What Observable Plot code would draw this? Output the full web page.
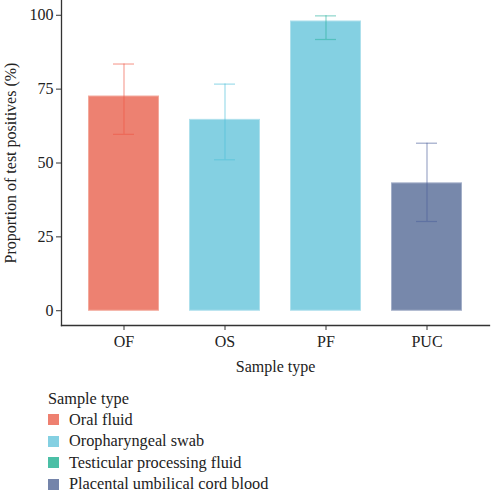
<!DOCTYPE html>
<html>
<head>
<meta charset="utf-8">
<script src="https://cdn.jsdelivr.net/npm/d3@7"></script>
<script src="https://cdn.jsdelivr.net/npm/@observablehq/plot@0.6"></script>
<style>
  body { margin: 0; background: #fff; font-family: "Liberation Serif", "DejaVu Serif", serif; }
  #chart svg { display: block; }
  .legend { margin: 4px 0 0 48px; color: #222; font-size: 16.3px; }
  .legend .ttl { height: 21px; line-height: 21px; }
  .legend .item { display: flex; align-items: center; height: 21.5px; }
  .legend .sw { width: 11px; height: 11px; margin-right: 10px; }
</style>
</head>
<body>
<div id="chart"></div>
<div class="legend" id="legend"></div>
<script>
// Proportion of test positives by sample type, with 95% confidence intervals
const codes = ["OF", "OS", "PF", "PUC"];
const names = ["Oral fluid", "Oropharyngeal swab", "Testicular processing fluid", "Placental umbilical cord blood"];
const percent = [72.5, 64.6, 97.9, 43.1];
const lower = [59.7, 51.1, 91.8, 30.2];
const upper = [83.5, 76.7, 99.8, 56.7];
const barFill = ["#ED8171", "#84D0E2", "#84D0E2", "#7788AB"];
const barEdge = ["#F3A99C", "#AEE0EC", "#AEE0EC", "#A3AFC8"];
const errColor = ["#EE5644", "#4FBFD9", "#2BB3A0", "#4D609A"];
const legendColor = ["#EE8070", "#84D0E2", "#4BBFA6", "#7484AA"];
const yTicks = [0, 25, 50, 75, 100];

const rows = codes.map((c, i) => ({
  code: c, value: percent[i], lo: lower[i], hi: upper[i],
  fill: barFill[i], edge: barEdge[i], err: errColor[i]
}));

const chart = Plot.plot({
  width: 491,
  height: 384,
  marginLeft: 61,
  marginRight: 2,
  marginTop: 0,
  marginBottom: 59,
  style: { fontFamily: "'Liberation Serif', 'DejaVu Serif', serif", fontSize: "16px", color: "#222", background: "#fff" },
  x: { domain: codes, paddingInner: 0.3, paddingOuter: 0.25 },
  y: { domain: [-5, 105], ticks: yTicks },
  marks: [
    Plot.barY(rows, { x: "code", y1: 0, y2: "value", fill: "fill", stroke: "edge", strokeWidth: 1, insetLeft: 0.5, insetRight: 0.5 }),
    Plot.ruleX(rows, { x: "code", y1: "lo", y2: "hi", stroke: "err", strokeWidth: 1.2, strokeOpacity: 0.55 }),
    Plot.tickY(rows, { x: "code", y: "hi", stroke: "err", strokeWidth: 1.2, strokeOpacity: 0.55, insetLeft: 25, insetRight: 25 }),
    Plot.tickY(rows, { x: "code", y: "lo", stroke: "err", strokeWidth: 1.2, strokeOpacity: 0.55, insetLeft: 25, insetRight: 25 }),
    Plot.axisY({ ticks: yTicks, tickSize: 5, tickPadding: 3, stroke: "#333", fill: "#222", fontSize: 16, label: "Proportion of test positives (%)", labelAnchor: "center", labelOffset: 57, labelArrow: "none" }),
    Plot.axisX({ tickSize: 5, tickPadding: 5, stroke: "#333", fill: "#222", fontSize: 16, label: "Sample type", labelAnchor: "center", labelOffset: 46, labelArrow: "none" }),
    Plot.frame({ anchor: "left", stroke: "#333", strokeWidth: 1.3 }),
    Plot.frame({ anchor: "bottom", stroke: "#333", strokeWidth: 1.3 })
  ]
});
document.getElementById("chart").appendChild(chart);

// Legend for sample types
const legend = document.getElementById("legend");
const t = document.createElement("div");
t.className = "ttl";
t.textContent = "Sample type";
legend.appendChild(t);
names.forEach((n, i) => {
  const item = document.createElement("div");
  item.className = "item";
  const sw = document.createElement("span");
  sw.className = "sw";
  sw.style.background = legendColor[i];
  const lab = document.createElement("span");
  lab.textContent = n;
  item.appendChild(sw);
  item.appendChild(lab);
  legend.appendChild(item);
});
</script>
</body>
</html>
